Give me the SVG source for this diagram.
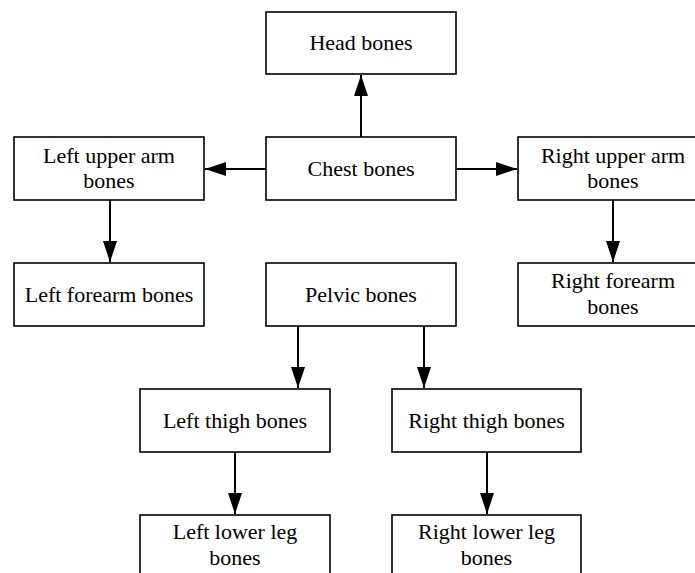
<svg xmlns="http://www.w3.org/2000/svg" width="695" height="573" viewBox="0 0 695 573">
<style>
.box{fill:#fff;stroke:#000;stroke-width:1.6}
.t{font-family:'Liberation Serif','Times New Roman',serif;font-size:22px;fill:#000;text-anchor:middle}
.c{stroke:#000;stroke-width:2;fill:none;marker-end:url(#ah)}
</style>
<defs>
<marker id="ah" markerUnits="userSpaceOnUse" markerWidth="22" markerHeight="16" refX="21" refY="7" orient="auto">
<path d="M0,0 L21,7 L0,14 Z" fill="#000"/>
</marker>
</defs>
<rect width="695" height="573" fill="#fff"/>
<g id="connectors">
<line class="c" x1="361" y1="137" x2="361" y2="75"/>
<line class="c" x1="266" y1="169" x2="205" y2="169"/>
<line class="c" x1="456" y1="169" x2="517" y2="169"/>
<line class="c" x1="110" y1="200" x2="110" y2="262"/>
<line class="c" x1="613" y1="200" x2="613" y2="262"/>
<line class="c" x1="298" y1="326" x2="298" y2="388"/>
<line class="c" x1="424" y1="326" x2="424" y2="388"/>
<line class="c" x1="235" y1="452" x2="235" y2="514"/>
<line class="c" x1="487" y1="452" x2="487" y2="514"/>
</g>
<g id="head"><rect class="box" x="266" y="12" width="190" height="62"/><text class="t" x="361" y="50">Head bones</text></g>
<g id="chest"><rect class="box" x="266" y="137" width="190" height="63"/><text class="t" x="361" y="176">Chest bones</text></g>
<g id="left-upper-arm"><rect class="box" x="14" y="137" width="190" height="63"/><text class="t" x="109" y="163">Left upper arm</text><text class="t" x="109" y="188">bones</text></g>
<g id="right-upper-arm"><rect class="box" x="518" y="137" width="190" height="63"/><text class="t" x="613" y="163">Right upper arm</text><text class="t" x="613" y="188">bones</text></g>
<g id="left-forearm"><rect class="box" x="14" y="263" width="190" height="63"/><text class="t" x="109" y="302">Left forearm bones</text></g>
<g id="pelvic"><rect class="box" x="266" y="263" width="190" height="63"/><text class="t" x="361" y="302">Pelvic bones</text></g>
<g id="right-forearm"><rect class="box" x="518" y="263" width="190" height="63"/><text class="t" x="613" y="288">Right forearm</text><text class="t" x="613" y="314">bones</text></g>
<g id="left-thigh"><rect class="box" x="140" y="389" width="190" height="63"/><text class="t" x="235" y="428">Left thigh bones</text></g>
<g id="right-thigh"><rect class="box" x="392" y="389" width="189" height="63"/><text class="t" x="486.5" y="428">Right thigh bones</text></g>
<g id="left-lower-leg"><rect class="box" x="140" y="515" width="190" height="70"/><text class="t" x="235" y="539">Left lower leg</text><text class="t" x="235" y="565">bones</text></g>
<g id="right-lower-leg"><rect class="box" x="392" y="515" width="189" height="70"/><text class="t" x="486.5" y="539">Right lower leg</text><text class="t" x="486.5" y="565">bones</text></g>
</svg>
